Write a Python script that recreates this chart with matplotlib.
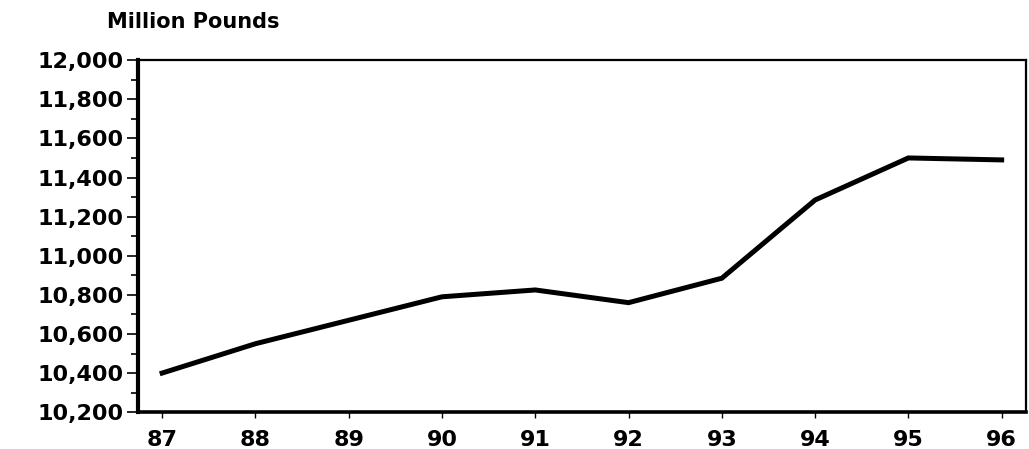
import matplotlib.pyplot as plt
from matplotlib.ticker import MultipleLocator, FuncFormatter

# data
years = ["87", "88", "89", "90", "91", "92", "93", "94", "95", "96"]
pounds = [10400, 10550, 10670, 10790, 10825, 10760, 10885, 11285, 11500, 11490]

plt.rcParams['font.family'] = ['DejaVu Sans']
plt.rcParams['font.weight'] = 'bold'

fig = plt.figure(figsize=(10.29, 4.49), dpi=100)
ax = fig.add_axes([0.134, 0.082, 0.863, 0.784])

x = list(range(len(years)))
ax.plot(x, pounds, color="black", lw=3.6, solid_joinstyle="miter")

ax.set_xlim(-0.26, len(years) - 1 + 0.26)
ax.set_ylim(10200, 12000)
ax.set_xticks(x)
ax.set_xticklabels(years)
ax.yaxis.set_major_locator(MultipleLocator(200))
ax.yaxis.set_minor_locator(MultipleLocator(100))
ax.yaxis.set_major_formatter(FuncFormatter(lambda v, p: f"{int(v):,}"))

ax.tick_params(axis="y", which="major", length=8, width=1.2, labelsize=16, pad=2)
ax.tick_params(axis="y", which="minor", length=5, width=1.2)
ax.tick_params(axis="x", length=4, width=1, labelsize=16, pad=9)

for lab in ax.get_xticklabels() + ax.get_yticklabels():
    lab.set_fontweight("bold")

ax.spines["left"].set_linewidth(3)
ax.spines["bottom"].set_linewidth(2.6)
ax.spines["top"].set_linewidth(1.6)
ax.spines["right"].set_linewidth(1.6)

fig.text(0.104, 0.951, "Million Pounds", fontsize=15, fontweight="bold", va="center", ha="left")

fig.savefig("out.png", dpi=100)
